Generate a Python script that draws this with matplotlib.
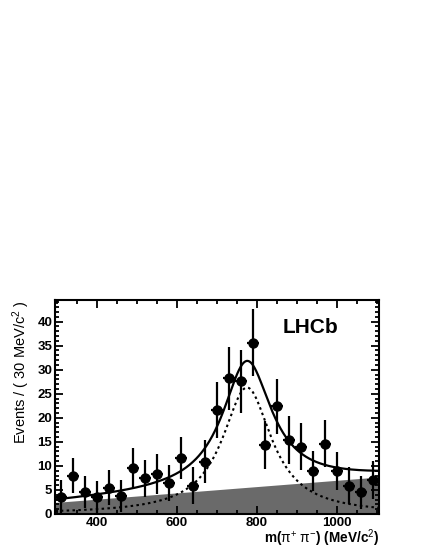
import matplotlib
matplotlib.use("Agg")
import matplotlib.pyplot as plt
from matplotlib.ticker import MultipleLocator
import numpy as np

plt.rcParams.update({
    "font.family": "Liberation Sans",
    "mathtext.fontset": "custom",
    "mathtext.rm": "Liberation Sans",
    "mathtext.it": "Liberation Sans:italic",
    "mathtext.bf": "Liberation Sans:bold",
})

# --- data: m(pi+ pi-) bins, 30 MeV wide ---
mass = np.arange(310, 1100, 30)
events = [3.6, 8.0, 4.6, 3.6, 5.5, 3.8, 9.5, 7.4, 8.3, 6.4, 11.7, 5.9, 10.9,
          21.7, 28.2, 27.6, 35.6, 14.4, 22.4, 15.4, 14.0, 9.0, 14.6, 8.9,
          5.9, 4.5, 7.1]
errors = [3.4, 3.7, 3.4, 3.3, 3.6, 3.3, 4.2, 3.9, 4.2, 3.7, 4.4, 3.8, 4.5,
          5.8, 6.6, 6.6, 7.0, 5.0, 5.7, 4.9, 4.95, 4.2, 4.9, 3.9, 3.8, 3.5, 4.0]
bin_half = 15

# fit components
bg_ends = [2.4, 7.7]          # linear background at 295 and 1105 MeV
rho_mass, rho_width, rho_peak = 775.0, 150.0, 26.3

xmin, xmax = 295, 1105
m = np.linspace(xmin, xmax, 600)
bg = np.interp(m, [xmin, xmax], bg_ends)
sig = rho_peak / (1 + ((m - rho_mass) / (rho_width / 2)) ** 2)
total = bg + sig

fig = plt.figure(figsize=(4.31, 5.57), dpi=100)
ax = fig.add_axes([0.1276, 0.0772, 0.7518, 0.3842])

ax.fill_between(m, 0, bg, color="#6a6a6a", lw=0)
ax.plot(m, sig, color="black", ls=(0, (1.2, 1.6)), lw=1.5)
ax.plot(m, total, color="black", lw=1.6)
ax.errorbar(mass, events, yerr=errors, xerr=bin_half, fmt="o", color="black",
            ms=6.5, elinewidth=1.6, capsize=0)

ax.set_xlim(xmin, xmax)
ax.set_ylim(0, 44.5)
ax.xaxis.set_major_locator(MultipleLocator(200))
ax.xaxis.set_minor_locator(MultipleLocator(50))
ax.yaxis.set_major_locator(MultipleLocator(5))
ax.yaxis.set_minor_locator(MultipleLocator(1))
ax.tick_params(which="both", direction="in", top=True, right=True, width=1.3)
ax.tick_params(which="major", length=6, labelsize=9.5, pad=2)
ax.tick_params(which="minor", length=3)
for lab in ax.get_xticklabels() + ax.get_yticklabels():
    lab.set_fontweight("bold")
for s in ax.spines.values():
    s.set_linewidth(1.5)

ax.set_ylabel(r"Events / ( 30 MeV/c$^{2}$ )", fontsize=10.5, loc="top",
              labelpad=4)
ax.set_xlabel(r"m($\mathrm{\pi}^{+}$ $\mathrm{\pi}^{-}$) (MeV/c$^{2}$)",
              fontsize=9.8, fontweight="bold", loc="right", labelpad=-1)

ax.text(0.79, 0.87, "LHCb", transform=ax.transAxes, fontsize=15,
        fontweight="bold", ha="center", va="center")

fig.savefig("out.png", dpi=100)
